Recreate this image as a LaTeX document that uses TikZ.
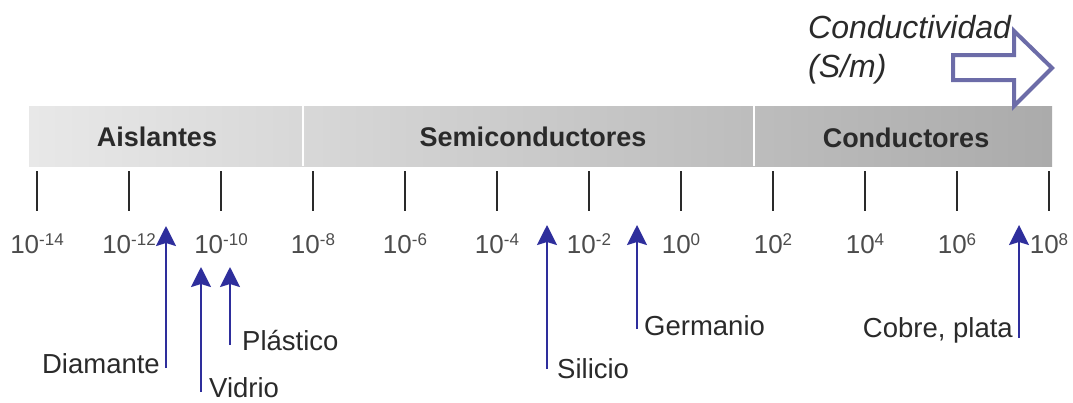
\documentclass[tikz,border=0pt]{standalone}
\usepackage{fontspec}
\setmainfont{Liberation Sans}
\usetikzlibrary{arrows.meta}
\definecolor{ptrblue}{HTML}{2E2E9C}
\definecolor{flowpurple}{HTML}{6C6CA8}
\definecolor{inkgray}{HTML}{2A2A2A}
\newcommand\tenpow[1]{10\raisebox{8pt}{\fontsize{17}{17}\selectfont #1}}

\begin{document}
\begin{tikzpicture}[x=1pt,y=-1pt,
  section/.style={font=\fontsize{27}{30}\selectfont\bfseries, text=inkgray, inner sep=0pt},
  ticklbl/.style={font=\fontsize{26}{28}\selectfont, text=black!70, inner sep=0pt, anchor=base},
  matlbl/.style={font=\fontsize{27.5}{30}\selectfont, text=inkgray, inner sep=0pt},
  unitlbl/.style={font=\fontsize{32}{39}\selectfont\itshape, text=inkgray, anchor=base west, inner sep=0pt},
  tickmark/.style={line width=1.8pt, draw=inkgray},
  ptr/.style={line width=2.2pt, draw=ptrblue, -{Stealth[length=20pt,width=20pt,inset=3pt]}},
  flowarrow/.style={line width=4pt, draw=flowpurple, fill=white, line join=miter}]
\useasboundingbox (0,0) rectangle (1073,402);

% shaded scale bar with white separators between the three ranges
\shade[left color=gray!18, right color=gray!66] (29,106) rectangle (1052,166);
\draw[white, line width=2.5pt] (303,106) -- (303,166);
\draw[white, line width=2.5pt] (754,106) -- (754,166);

\node[section, anchor=base] (ais) at (157,146) {Aislantes};
\node[section, anchor=base] (semi) at (533,146) {Semiconductores};
\node[section, anchor=base] (cond) at (906,147) {Conductores};

% decade ticks and their labels
\foreach \k in {0,...,11}{
  \pgfmathsetmacro{\xx}{37+92*\k}
  \pgfmathtruncatemacro{\ee}{-14+2*\k}
  \draw[tickmark] (\xx,171) -- (\xx,211);
  \node[ticklbl] (t\k) at (\xx,253) {\tenpow{\ee}};
}

% direction of increasing conductivity
\draw[flowarrow] (953,55) -- (1014,55) -- (1014,31) -- (1052,68) -- (1014,106) -- (1014,80) -- (953,80) -- cycle;
\node[unitlbl] (unit1) at (808,38) {Conductividad};
\node[unitlbl] (unit2) at (808,77) {(S/m)};

% materials
\node[matlbl, anchor=base east] (diam) at (160,373) {Diamante};
\node[matlbl, anchor=base west] (vid) at (209,397) {Vidrio};
\node[matlbl, anchor=base west] (plas) at (242,350) {Plástico};
\node[matlbl, anchor=base west] (sil) at (557,378) {Silicio};
\node[matlbl, anchor=base west] (ger) at (644,335) {Germanio};
\node[matlbl, anchor=base east] (cob) at (1013,337) {Cobre, plata};

\coordinate (diamA) at (166,368); \coordinate (diamB) at (166,226);
\coordinate (vidA) at (201,392);  \coordinate (vidB) at (201,267);
\coordinate (plasA) at (230,345); \coordinate (plasB) at (230,267);
\coordinate (silA) at (547,369);  \coordinate (silB) at (547,225);
\coordinate (gerA) at (637,329);  \coordinate (gerB) at (637,225);
\coordinate (cobA) at (1019,338); \coordinate (cobB) at (1019,225);

\foreach \m in {diam,vid,plas,sil,ger,cob}
  \draw[ptr] (\m A) -- (\m B);
\end{tikzpicture}
\end{document}
